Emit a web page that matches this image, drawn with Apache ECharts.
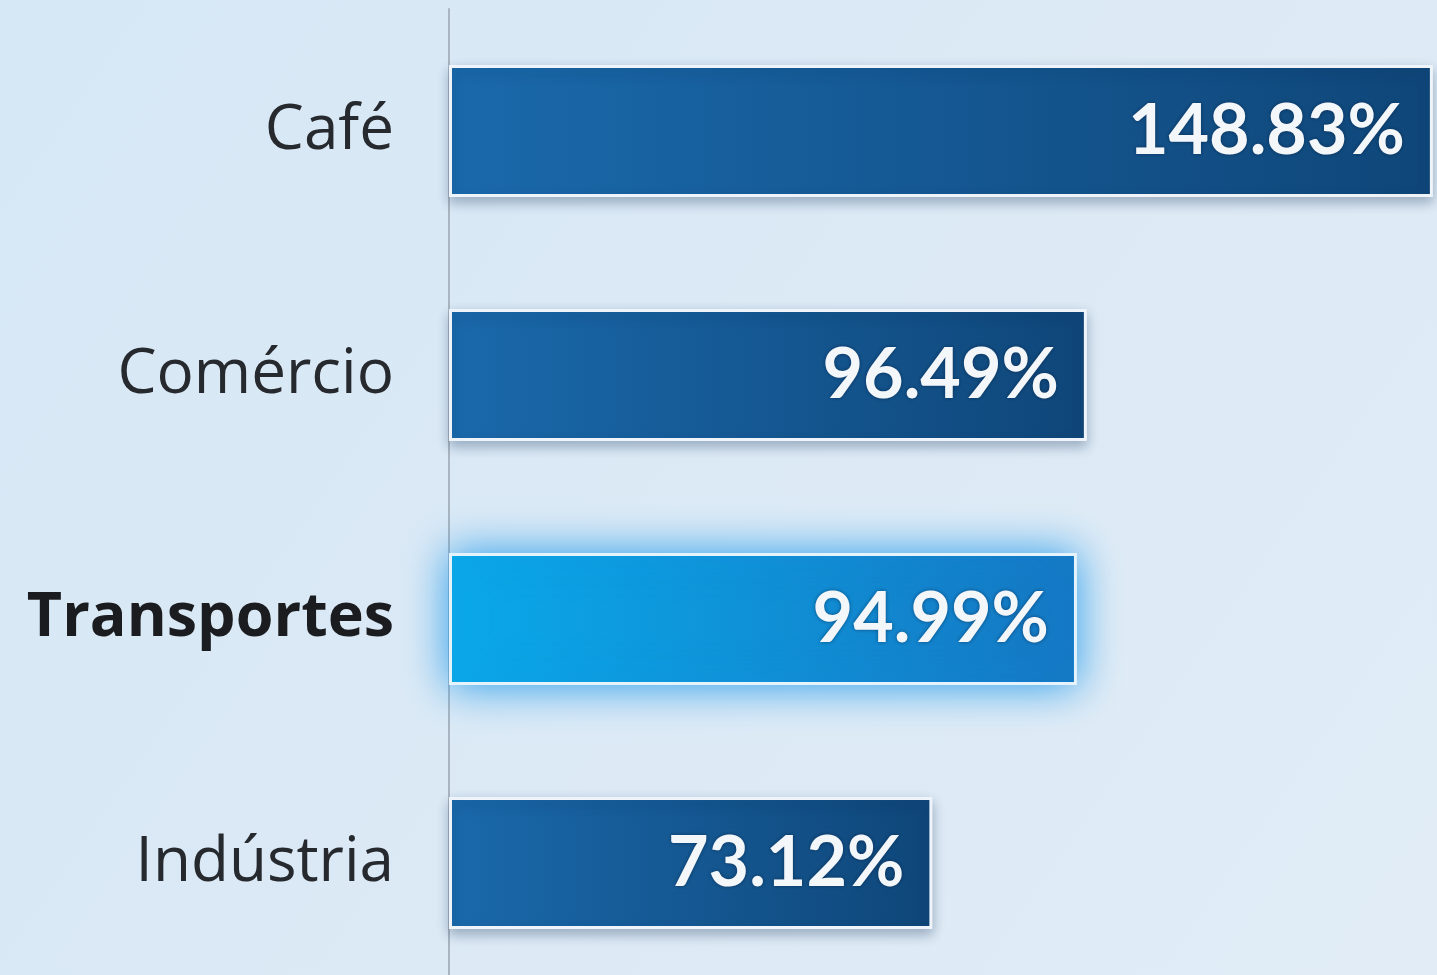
<!DOCTYPE html>
<html>
<head>
<meta charset="utf-8">
<script src="https://cdn.jsdelivr.net/npm/echarts@6/dist/echarts.min.js"></script>
<style>
  html, body { margin: 0; padding: 0; overflow: hidden; }
  #chart { width: 1437px; height: 990px; }
</style>
</head>
<body>
<div id="chart"></div>
<script>
const categories = ['Café', 'Comércio', 'Transportes', 'Indústria'];
const values = [148.83, 96.49, 94.99, 73.12];
const highlight = 'Transportes';

const chart = echarts.init(document.getElementById('chart'));

const normalStyle = {
  color: new echarts.graphic.LinearGradient(0, 0, 1, 0, [
    { offset: 0, color: '#1a69ab' },
    { offset: 1, color: '#0f4679' },
  ]),
  borderColor: '#eef4fa',
  borderWidth: 3,
  shadowBlur: 12,
  shadowOffsetY: 5,
  shadowColor: 'rgba(10, 40, 80, 0.3)',
};

const hotStyle = {
  color: new echarts.graphic.LinearGradient(0, 0, 1, 0, [
    { offset: 0, color: '#0aa9e9' },
    { offset: 1, color: '#1577c3' },
  ]),
  borderColor: '#e4f3fc',
  borderWidth: 3,
  shadowBlur: 40,
  shadowColor: 'rgba(20, 150, 235, 0.9)',
};

chart.setOption({
  backgroundColor: new echarts.graphic.LinearGradient(0, 0, 1, 1, [
    { offset: 0, color: '#d6e7f5' },
    { offset: 1, color: '#e1ecf6' },
  ]),
  grid: { left: 449, right: 3, top: 9, bottom: 5 },
  xAxis: {
    type: 'value',
    min: 0,
    max: 149,
    show: false,
  },
  yAxis: {
    type: 'category',
    data: categories,
    inverse: true,
    axisLine: { show: true, lineStyle: { color: '#a9b5c1', width: 2 } },
    axisTick: { show: false },
    axisLabel: {
      margin: 55,
      fontFamily: 'Open Sans',
      fontSize: 62,
      color: '#262a2e',
      formatter: v => (v === highlight ? '{b|' + v + '}' : v),
      rich: {
        b: { fontFamily: 'Open Sans', fontSize: 61, fontWeight: 'bold', color: '#1a1c1f' },
      },
    },
  },
  series: [
    {
      type: 'bar',
      barWidth: 132,
      data: values.map((v, i) => ({
        value: v,
        itemStyle: categories[i] === highlight ? hotStyle : normalStyle,
      })),
      label: {
        show: true,
        position: 'insideRight',
        distance: 28,
        formatter: p => p.value.toFixed(2) + '%',
        fontFamily: 'Lato',
        fontWeight: 'bold',
        fontSize: 70,
        color: '#f4f7fa',
        textShadowColor: 'rgba(0, 20, 50, 0.5)',
        textShadowBlur: 4,
      },
    },
  ],
});
</script>
</body>
</html>
